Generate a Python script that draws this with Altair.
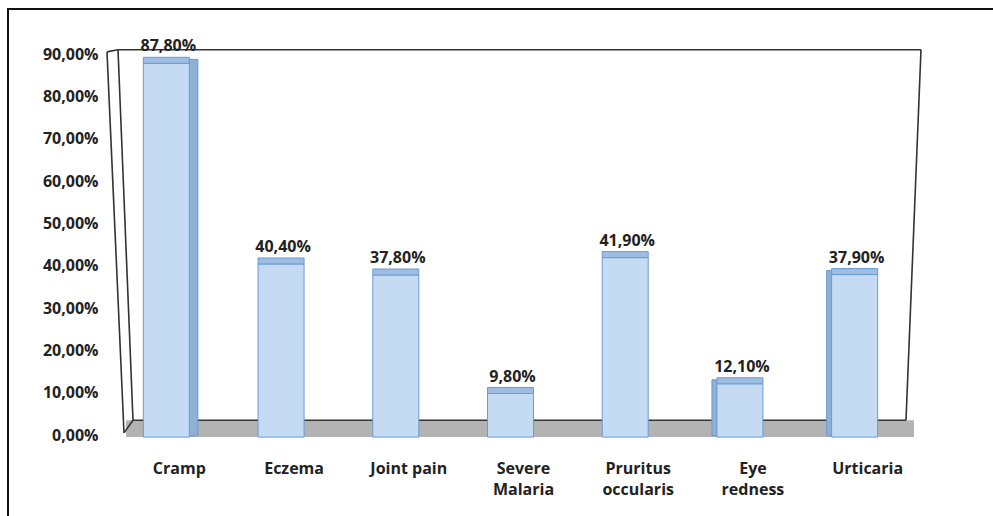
import altair as alt
import pandas as pd

# Share of respondents reporting each symptom (percent)
categories = ["Cramp", "Eczema", "Joint pain", "Severe\nMalaria",
              "Pruritus\noccularis", "Eye\nredness", "Urticaria"]
values = [87.8, 40.4, 37.8, 9.8, 41.9, 12.1, 37.9]
labels = ["87,80%", "40,40%", "37,80%", "9,80%", "41,90%", "12,10%", "37,90%"]
tick_values = [0, 10, 20, 30, 40, 50, 60, 70, 80, 90]

df = pd.DataFrame({"cat": categories, "value": values, "label": labels})

FONT = "Open Sans"
TEXT = "#222222"
W, H = 803, 381

x_enc = alt.X(
    "cat:N", sort=categories, title=None,
    scale=alt.Scale(paddingInner=0, paddingOuter=0),
    axis=alt.Axis(domain=False, ticks=False, labelAngle=0, labelPadding=25,
                  labelOffset=10, labelBaseline="top", labelFont=FONT,
                  labelFontSize=16, labelFontWeight="bold", labelColor=TEXT,
                  labelLineHeight=21, labelExpr="split(datum.label, '\\n')"),
)
y_scale = alt.Scale(domain=[0, 90], nice=False)
y_axis = alt.Axis(domain=False, ticks=False, grid=False, values=tick_values,
                  labelPadding=14, labelFont=FONT, labelFontSize=16,
                  labelFontWeight="bold", labelColor=TEXT,
                  labelExpr="replace(format(datum.value, '.2f'), '.', ',') + '%'")

one = alt.Data(values=[{}])

# outer frame of the figure
frame = alt.Chart(one).mark_rect(fill=None, stroke="#111111", strokeWidth=2).encode(
    x=alt.value(-104), x2=alt.value(W + 120), y=alt.value(-45), y2=alt.value(H + 120)
)

# grey floor under the bars
floor = alt.Chart(one).mark_rect(fill="#b3b3b3").encode(
    x=alt.value(14), x2=alt.value(802),
    y=alt.datum(3.5, scale=y_scale, axis=y_axis, title=None), y2=alt.datum(-0.5)
)

def seg(x1, x2, y1, y2, color="#333333", w=1.6):
    return alt.Chart(one).mark_rule(color=color, strokeWidth=w).encode(
        x=alt.value(x1), x2=alt.value(x2),
        y=alt.datum(y1, scale=y_scale, axis=y_axis, title=None), y2=alt.datum(y2)
    )

# back wall outline and slanted side wall
walls = [
    seg(6, 809, 91.0, 91.0),
    seg(809, 794, 91.0, 3.5),
    seg(21, 794, 3.5, 3.5),
    seg(-5, 6, 90.5, 91.0),
    seg(-5, 12, 90.5, 0.5),
    seg(6, 21, 91.0, 3.5),
    seg(12, 21, 0.5, 3.5),
]

base = alt.Chart(df).encode(x=x_enc)
y_val = alt.Y("value:Q", scale=y_scale, axis=y_axis, title=None)

BAR_FILL = "#c4dbf3"
EDGE = "#6a9bd2"
SIDE = "#8fb1d8"

# dark side faces of the outermost bars
side_right = base.transform_filter(alt.datum.cat == "Cramp").mark_bar(
    width=9, xOffset=24, yOffset=-4, fill=SIDE, stroke=EDGE, strokeWidth=1
).encode(y=y_val, y2=alt.datum(-0.2))
side_left = base.transform_filter(
    alt.FieldOneOfPredicate(field="cat", oneOf=["Eye\nredness", "Urticaria"])
).mark_bar(width=6, xOffset=-28, yOffset=-4, fill=SIDE, stroke=EDGE,
           strokeWidth=1).encode(y=y_val, y2=alt.datum(-0.2))

bars = base.mark_bar(width=46, xOffset=-3, fill=BAR_FILL, stroke=EDGE,
                     strokeWidth=1).encode(y=y_val, y2=alt.datum(-0.5))

caps = base.mark_bar(width=46, xOffset=-3, yOffset=-6, fill="#9dbde2",
                     stroke=EDGE, strokeWidth=1).encode(y=y_val, y2="value:Q")

text = base.mark_text(dy=-17, xOffset=-1, font=FONT, fontSize=16,
                      fontWeight="bold", color=TEXT, baseline="middle").encode(
    y=y_val, text="label:N"
)

chart = alt.layer(frame, floor, *walls, side_right, side_left, bars, caps, text).properties(
    width=W, height=H, background="white",
    autosize=alt.AutoSizeParams(type="none"),
    padding={"left": 112, "top": 54, "right": 78, "bottom": 81},
).configure_view(stroke=None)

chart.save("out.html", embed_options={"renderer": "svg", "actions": False})
